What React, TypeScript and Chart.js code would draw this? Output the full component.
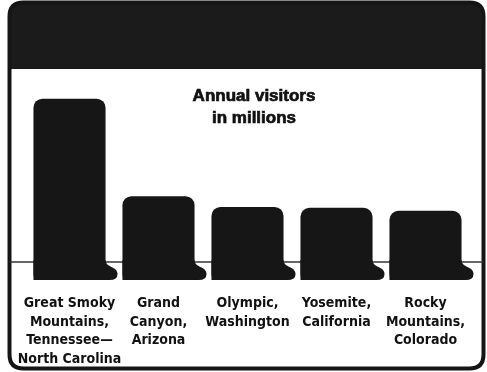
import React, { useEffect, useRef } from "react";
import { Chart, registerables } from "chart.js";

Chart.register(...registerables);

const categories: string[][] = [
  ["Great Smoky", "Mountains,", "Tennessee—", "North Carolina"],
  ["Grand", "Canyon,", "Arizona"],
  ["Olympic,", "Washington"],
  ["Yosemite,", "California"],
  ["Rocky", "Mountains,", "Colorado"],
];
const visitors: number[] = [9.3, 4.3, 3.75, 3.7, 3.55];
const titleLines: string[] = ["Annual visitors", "in millions"];

const frame = {
  id: "frame",
  beforeDraw(chart: any) {
    const ctx = chart.ctx as CanvasRenderingContext2D;
    const L = 9.5, T = 2.5, R = 483.5, B = 368.5, r = 14;
    ctx.save();
    ctx.fillStyle = "#ffffff";
    ctx.fillRect(0, 0, chart.width, chart.height);
    ctx.beginPath();
    ctx.moveTo(L + r, T);
    ctx.lineTo(R - r, T);
    ctx.quadraticCurveTo(R, T, R, T + r);
    ctx.lineTo(R, B - r);
    ctx.quadraticCurveTo(R, B, R - r, B);
    ctx.lineTo(L + r, B);
    ctx.quadraticCurveTo(L, B, L, B - r);
    ctx.lineTo(L, T + r);
    ctx.quadraticCurveTo(L, T, L + r, T);
    ctx.closePath();
    ctx.save();
    ctx.clip();
    ctx.fillStyle = "#1b1b1b";
    ctx.fillRect(0, 0, chart.width, 69);
    ctx.restore();
    ctx.lineWidth = 4;
    ctx.strokeStyle = "#151515";
    ctx.stroke();
    const yBase = chart.scales.y.getPixelForValue(0) - 18;
    ctx.beginPath();
    ctx.moveTo(L, yBase);
    ctx.lineTo(R, yBase);
    ctx.lineWidth = 1.5;
    ctx.strokeStyle = "#333333";
    ctx.stroke();
    ctx.restore();
  },
  afterDatasetsDraw(chart: any) {
    const ctx = chart.ctx as CanvasRenderingContext2D;
    const meta = chart.getDatasetMeta(0);
    ctx.save();
    ctx.fillStyle = "#161616";
    meta.data.forEach((bar: any) => {
      const left = bar.x - bar.width / 2;
      const right = bar.x + bar.width / 2;
      const base = bar.base;
      ctx.beginPath();
      ctx.moveTo(left, base - 20);
      ctx.lineTo(right, base - 20);
      ctx.bezierCurveTo(right, base - 12, right + 12, base - 14, right + 12, base - 6);
      ctx.quadraticCurveTo(right + 12, base, right + 4, base);
      ctx.lineTo(left + 6, base);
      ctx.quadraticCurveTo(left, base, left, base - 6);
      ctx.closePath();
      ctx.fill();
    });
    ctx.fillStyle = "#111111";
    ctx.strokeStyle = "#111111";
    ctx.lineWidth = 0.7;
    ctx.font = "bold 17px 'Liberation Sans', Arial, sans-serif";
    ctx.textAlign = "center";
    ctx.textBaseline = "middle";
    titleLines.forEach((t, i) => {
      ctx.fillText(t, 254, 96 + i * 22);
      ctx.strokeText(t, 254, 96 + i * 22);
    });
    ctx.restore();
  },
};

export default function App() {
  const ref = useRef<HTMLCanvasElement | null>(null);
  useEffect(() => {
    if (!ref.current) return;
    const chart = new Chart(ref.current, {
      type: "bar",
      data: {
        labels: categories,
        datasets: [
          {
            data: visitors,
            backgroundColor: "#161616",
            borderWidth: 0,
            borderSkipped: false,
            borderRadius: { topLeft: 9, topRight: 9, bottomLeft: 0, bottomRight: 0 },
            barPercentage: 0.81,
            categoryPercentage: 1,
          },
        ],
      },
      options: {
        animation: false,
        responsive: false,
        devicePixelRatio: 1,
        layout: { padding: { left: 25, right: 17, top: 85, bottom: 0 } },
        plugins: { legend: { display: false }, title: { display: false }, tooltip: { enabled: false } },
        scales: {
          x: {
            grid: { display: false, drawTicks: false },
            border: { display: false },
            afterFit(scale: any) {
              scale.height = 92;
            },
            ticks: {
              padding: 14,
              color: "#111111",
              autoSkip: false,
              maxRotation: 0,
              font: { family: "'Liberation Sans Narrow', 'DejaVu Sans Condensed', sans-serif", size: 14, weight: "bold", lineHeight: 1.33 },
            },
          },
          y: { display: false, min: 0, max: 10 },
        },
      },
      plugins: [frame],
    });
    return () => chart.destroy();
  }, []);
  return (
    <div style={{ position: "absolute", left: 0, top: 0, width: 487, height: 372 }}>
      <canvas ref={ref} width={487} height={372} />
    </div>
  );
}
